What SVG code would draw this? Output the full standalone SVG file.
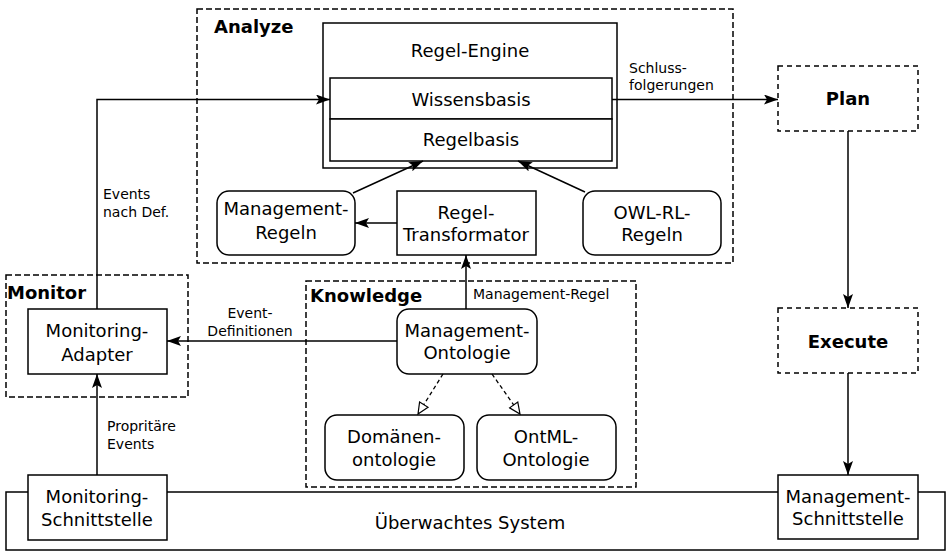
<svg xmlns="http://www.w3.org/2000/svg" width="948" height="553" viewBox="0 0 948 553">
<style>
text{font-family:"DejaVu Sans","Liberation Sans",sans-serif;fill:#000}
.t{font-size:18px;text-anchor:middle}
.s{font-size:14px}
.b{font-size:18px;font-weight:bold}
.box{fill:#fff;stroke:#000;stroke-width:1.5}
.grp{fill:none;stroke:#000;stroke-width:1.5;stroke-dasharray:6 3}
.grp2{fill:#fff;stroke:#000;stroke-width:1.5;stroke-dasharray:5 4}
.c{fill:none;stroke:#000;stroke-width:1.5}
.d{fill:none;stroke:#000;stroke-width:1.3;stroke-dasharray:4 3}
</style>
<defs>
<marker id="a" markerWidth="14" markerHeight="10" refX="14" refY="5" orient="auto" markerUnits="userSpaceOnUse">
<path d="M0,0 L14,5 L0,10 L3,5 z" fill="#000"/>
</marker>
<marker id="o" markerWidth="14" markerHeight="12" refX="12" refY="6" orient="auto" markerUnits="userSpaceOnUse">
<path d="M1,1 L12,6 L1,11 z" fill="#fff" stroke="#000" stroke-width="1.2"/>
</marker>
</defs>

<g id="system">
<rect class="box" x="6" y="492" width="939" height="58"/>
<text class="t" x="470" y="529">Überwachtes System</text>
</g>

<g id="analyze">
<rect class="grp" x="197" y="9" width="536" height="254"/>
<text class="b" x="214" y="33">Analyze</text>
</g>
<g id="monitor">
<rect class="grp" x="6" y="275" width="182" height="122"/>
<text class="b" x="7" y="299">Monitor</text>
</g>
<g id="knowledge">
<rect class="grp" x="306" y="281" width="330" height="206"/>
<text class="b" x="310" y="302">Knowledge</text>
</g>

<g id="regel-engine">
<rect class="box" x="323" y="23" width="294" height="145"/>
<text class="t" x="470" y="57">Regel-Engine</text>
</g>
<g id="wissensbasis">
<rect class="box" x="330" y="78" width="282" height="41"/>
<text class="t" x="471" y="106">Wissensbasis</text>
</g>
<g id="regelbasis">
<rect class="box" x="330" y="119" width="282" height="42"/>
<text class="t" x="471" y="146">Regelbasis</text>
</g>

<g id="management-regeln">
<rect class="box" x="217" y="191" width="138" height="64" rx="12"/>
<text class="t" x="286" y="215">Management-</text>
<text class="t" x="286" y="239">Regeln</text>
</g>
<g id="regel-transformator">
<rect class="box" x="397" y="191" width="139" height="64"/>
<text class="t" x="466" y="219">Regel-</text>
<text class="t" x="466" y="241">Transformator</text>
</g>
<g id="owl-rl-regeln">
<rect class="box" x="583" y="191" width="138" height="64" rx="12"/>
<text class="t" x="652" y="219">OWL-RL-</text>
<text class="t" x="652" y="241">Regeln</text>
</g>

<g id="plan">
<rect class="grp2" x="778" y="66" width="140" height="65"/>
<text class="b" x="848" y="105" text-anchor="middle">Plan</text>
</g>
<g id="execute">
<rect class="grp2" x="778" y="308" width="140" height="65"/>
<text class="b" x="848" y="348" text-anchor="middle">Execute</text>
</g>

<g id="monitoring-adapter">
<rect class="box" x="28" y="309" width="139" height="65"/>
<text class="t" x="97" y="337">Monitoring-</text>
<text class="t" x="97" y="361">Adapter</text>
</g>

<g id="management-ontologie">
<rect class="box" x="397" y="309" width="140" height="65" rx="12"/>
<text class="t" x="467" y="337">Management-</text>
<text class="t" x="467" y="359">Ontologie</text>
</g>
<g id="domaenenontologie">
<rect class="box" x="325" y="415" width="139" height="65" rx="12"/>
<text class="t" x="394" y="443">Domänen-</text>
<text class="t" x="394" y="466">ontologie</text>
</g>
<g id="ontml-ontologie">
<rect class="box" x="477" y="415" width="139" height="65" rx="12"/>
<text class="t" x="546" y="443">OntML-</text>
<text class="t" x="546" y="466">Ontologie</text>
</g>

<g id="monitoring-schnittstelle">
<rect class="box" x="28" y="475" width="139" height="65"/>
<text class="t" x="97" y="503">Monitoring-</text>
<text class="t" x="97" y="526">Schnittstelle</text>
</g>
<g id="management-schnittstelle">
<rect class="box" x="778" y="475" width="140" height="64"/>
<text class="t" x="848" y="503">Management-</text>
<text class="t" x="848" y="525">Schnittstelle</text>
</g>

<g id="connectors">
<polyline class="c" points="97,309 97,99.5 330,99.5" marker-end="url(#a)"/>
<line class="c" x1="612" y1="99.5" x2="778" y2="99.5" marker-end="url(#a)"/>
<line class="c" x1="353" y1="193" x2="423" y2="161" marker-end="url(#a)"/>
<line class="c" x1="585" y1="192" x2="518" y2="161" marker-end="url(#a)"/>
<line class="c" x1="397" y1="223" x2="355" y2="223" marker-end="url(#a)"/>
<line class="c" x1="466" y1="309" x2="466" y2="255" marker-end="url(#a)"/>
<line class="c" x1="397" y1="341" x2="167" y2="341" marker-end="url(#a)"/>
<line class="c" x1="97" y1="475" x2="97" y2="374" marker-end="url(#a)"/>
<line class="c" x1="848" y1="131" x2="848" y2="308" marker-end="url(#a)"/>
<line class="c" x1="848" y1="373" x2="848" y2="475" marker-end="url(#a)"/>
<line class="d" x1="443" y1="374" x2="418" y2="414" marker-end="url(#o)"/>
<line class="d" x1="492" y1="374" x2="520" y2="414" marker-end="url(#o)"/>
<text class="s" x="629" y="73">Schluss-</text>
<text class="s" x="629" y="90">folgerungen</text>
<text class="s" x="103" y="199">Events</text>
<text class="s" x="103" y="217">nach Def.</text>
<text class="s" x="250" y="318" text-anchor="middle">Event-</text>
<text class="s" x="250" y="336" text-anchor="middle">Definitionen</text>
<text class="s" x="107" y="431">Propritäre</text>
<text class="s" x="107" y="449">Events</text>
<text class="s" x="473" y="299">Management-Regel</text>
</g>
</svg>
